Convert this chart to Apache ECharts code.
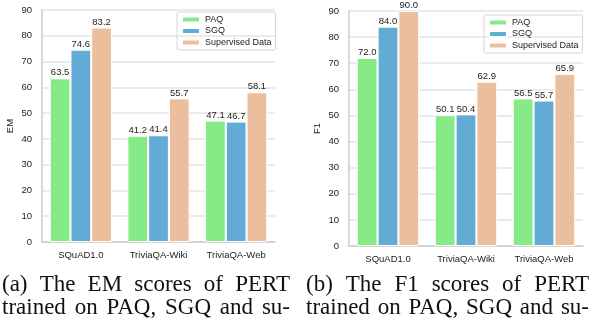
<!DOCTYPE html>
<html>
<head>
<meta charset="utf-8">
<script src="https://cdn.jsdelivr.net/npm/echarts@6/dist/echarts.min.js"></script>
<style>
  html, body { margin: 0; padding: 0; background: #fff; }
  #chart { width: 592px; height: 330px; }
</style>
</head>
<body>
<div id="chart"></div>
<script>
// 数据
const categories = ['SQuAD1.0', 'TriviaQA-Wiki', 'TriviaQA-Web'];
const seriesNames = ['PAQ', 'SGQ', 'Supervised Data'];
const emPAQ = [63.5, 41.2, 47.1];
const emSGQ = [74.6, 41.4, 46.7];
const emSup = [83.2, 55.7, 58.1];
const f1PAQ = [72.0, 50.1, 56.5];
const f1SGQ = [84.0, 50.4, 55.7];
const f1Sup = [90.0, 62.9, 65.9];
const colors = ['#86eb86', '#62abd4', '#ebbe9d'];

// 图注文字
const captionA = ['(a)  The EM scores of PERT', 'trained on PAQ, SGQ and su-'];
const captionB = ['(b)  The F1 scores of PERT', 'trained on PAQ, SGQ and su-'];

const font = 'Liberation Sans, Arial, sans-serif';
const serif = 'Liberation Serif, Times New Roman, serif';
const capSize = 23;

function makeBar(name, data, idx, color) {
    return {
        name: name,
        type: 'bar',
        xAxisIndex: idx,
        yAxisIndex: idx,
        data: data,
        barWidth: '26.7%',
        barGap: '0%',
        itemStyle: { color: color, borderColor: '#fff', borderWidth: 1 },
        label: {
            show: true,
            position: ['50%', -10.5],
            align: 'center',
            verticalAlign: 'top',
            color: '#222',
            fontFamily: font,
            fontSize: 9.5,
            formatter: p => p.value.toFixed(1)
        }
    };
}

function makeXAxis(idx) {
    return {
        type: 'category',
        gridIndex: idx,
        data: categories,
        axisLine: { lineStyle: { color: '#cccccc', width: 1.5 } },
        axisTick: { show: false },
        axisLabel: { color: '#222', fontFamily: font, fontSize: 9.5, margin: 8 }
    };
}

function makeYAxis(idx, name) {
    return {
        type: 'value',
        gridIndex: idx,
        min: 0,
        max: 90,
        interval: 10,
        name: name,
        nameLocation: 'middle',
        nameRotate: 90,
        nameGap: 27,
        nameTextStyle: { color: '#222', fontFamily: font, fontSize: 9.5 },
        axisLine: { show: true, lineStyle: { color: '#cccccc', width: 1.5 } },
        axisTick: { show: false },
        axisLabel: { color: '#222', fontFamily: font, fontSize: 9.5, margin: 10 },
        splitLine: { lineStyle: { color: '#e5e5e5', width: 1.5 } }
    };
}

function makeLegend(left, top) {
    return {
        data: seriesNames,
        orient: 'vertical',
        left: left,
        top: top,
        itemWidth: 18,
        itemHeight: 6,
        itemGap: 2.5,
        padding: [3, 4, 3, 4],
        borderColor: '#d5d5d5',
        borderWidth: 1,
        borderRadius: 2,
        selectedMode: false,
        textStyle: { color: '#222', fontFamily: font, fontSize: 9 }
    };
}

// 两端对齐的图注（LaTeX 排版效果）
const measureCtx = document.createElement('canvas').getContext('2d');
function justifyLine(text, x0, x1, top) {
    measureCtx.font = capSize + 'px ' + serif;
    const words = text.split(/\s+/);
    const widths = words.map(w => measureCtx.measureText(w).width);
    const total = widths.reduce((a, b) => a + b, 0);
    const gap = (x1 - x0 - total) / (words.length - 1);
    let x = x0;
    return words.map((w, i) => {
        const el = {
            type: 'text',
            x: x,
            y: top,
            style: { text: w, fontFamily: serif, fontSize: capSize, fill: '#111', verticalAlign: 'top' }
        };
        x += widths[i] + gap;
        return el;
    });
}

const graphics = [
    ...justifyLine(captionA[0], 2, 290, 273),
    ...justifyLine(captionA[1], 2, 290, 296),
    ...justifyLine(captionB[0], 306, 589, 273),
    ...justifyLine(captionB[1], 306, 589, 296)
];

const chart = echarts.init(document.getElementById('chart'));
chart.setOption({
    animation: false,
    grid: [
        { left: 42, top: 10, right: 317, bottom: 88 },
        { left: 349, top: 11, right: 9, bottom: 84 }
    ],
    legend: [makeLegend(177, 12), makeLegend(484, 15)],
    xAxis: [makeXAxis(0), makeXAxis(1)],
    yAxis: [makeYAxis(0, 'EM'), makeYAxis(1, 'F1')],
    series: [
        makeBar('PAQ', emPAQ, 0, colors[0]),
        makeBar('SGQ', emSGQ, 0, colors[1]),
        makeBar('Supervised Data', emSup, 0, colors[2]),
        makeBar('PAQ', f1PAQ, 1, colors[0]),
        makeBar('SGQ', f1SGQ, 1, colors[1]),
        makeBar('Supervised Data', f1Sup, 1, colors[2])
    ],
    graphic: graphics
});
</script>
</body>
</html>
